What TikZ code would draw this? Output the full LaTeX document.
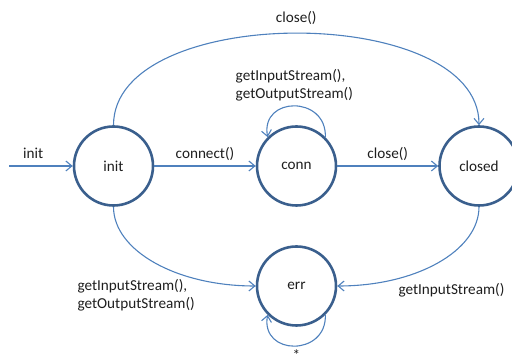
\documentclass[tikz,border=0pt]{standalone}
\usepackage{fontspec}
\setmainfont{Carlito}
\usetikzlibrary{arrows.meta}
\definecolor{ring}{HTML}{3A5F8D}
\definecolor{wire}{HTML}{4F81BD}
\definecolor{ink}{HTML}{1E1E1E}
\newcommand\fsz{\fontsize{15.2}{18}\selectfont}
\tikzset{
  state/.style={circle, draw=ring, line width=2.6pt, minimum size=79pt, inner sep=0pt, text=ink, font=\fsz},
  edge/.style={draw=wire, line width=1.1pt, -{Straight Barb[length=6pt,width=10pt]}},
  lab/.style={text=ink, font=\fsz},
  elab/.style={lab, text height=0.75em, text depth=0.25em},
}

\begin{document}
\begin{tikzpicture}[x=1pt,y=1pt]
  \useasboundingbox (0,0) rectangle (512,358);
  \clip (0,0) rectangle (512,358);
  % states
  \node[state] (init)   at (113.5,192) {init};
  \node[state] (conn)   at (296.5,192) {conn};
  \node[state] (closed) at (479,192)   {closed};
  \node[state] (err)    at (296.5,72)  {err};
  \coordinate (start) at (9,192);
  % straight transitions
  \draw[edge] (start) -- node[elab, pos=0.38, above=1pt] {init} (init);
  \draw[edge] (init) -- node[elab, above=1pt] {connect()} (conn);
  \draw[edge] (conn) -- node[elab, above=1pt] {close()} (closed);
  % over the top
  \draw[edge] (init.north) to[out=90,in=90,looseness=0.86]
    node[elab, above=4pt] {close()} (closed.north);
  % self loops
  \draw[edge] (conn.45) to[out=88,in=100,looseness=1.86]
    node[lab, align=left, above=1pt] {getInputStream(),\\getOutputStream()} (conn.135);
  \draw[edge] (err.-45) to[out=-88,in=-100,looseness=1.86] (err.-135);
  \node[lab] (any) at (296.5,2.5) {*};
  % into err
  \draw[edge] (init.south) .. controls +(0,-44) and +(-79,0) .. (err.west);
  \draw[edge] (closed.south) .. controls +(0,-44) and +(79,0) .. (err.east);
  \node[lab, align=left, anchor=west] (errl) at (74,63) {getInputStream(),\\getOutputStream()};
  \node[lab, anchor=base west] (errr) at (395,63) {getInputStream()};
\end{tikzpicture}
\end{document}
